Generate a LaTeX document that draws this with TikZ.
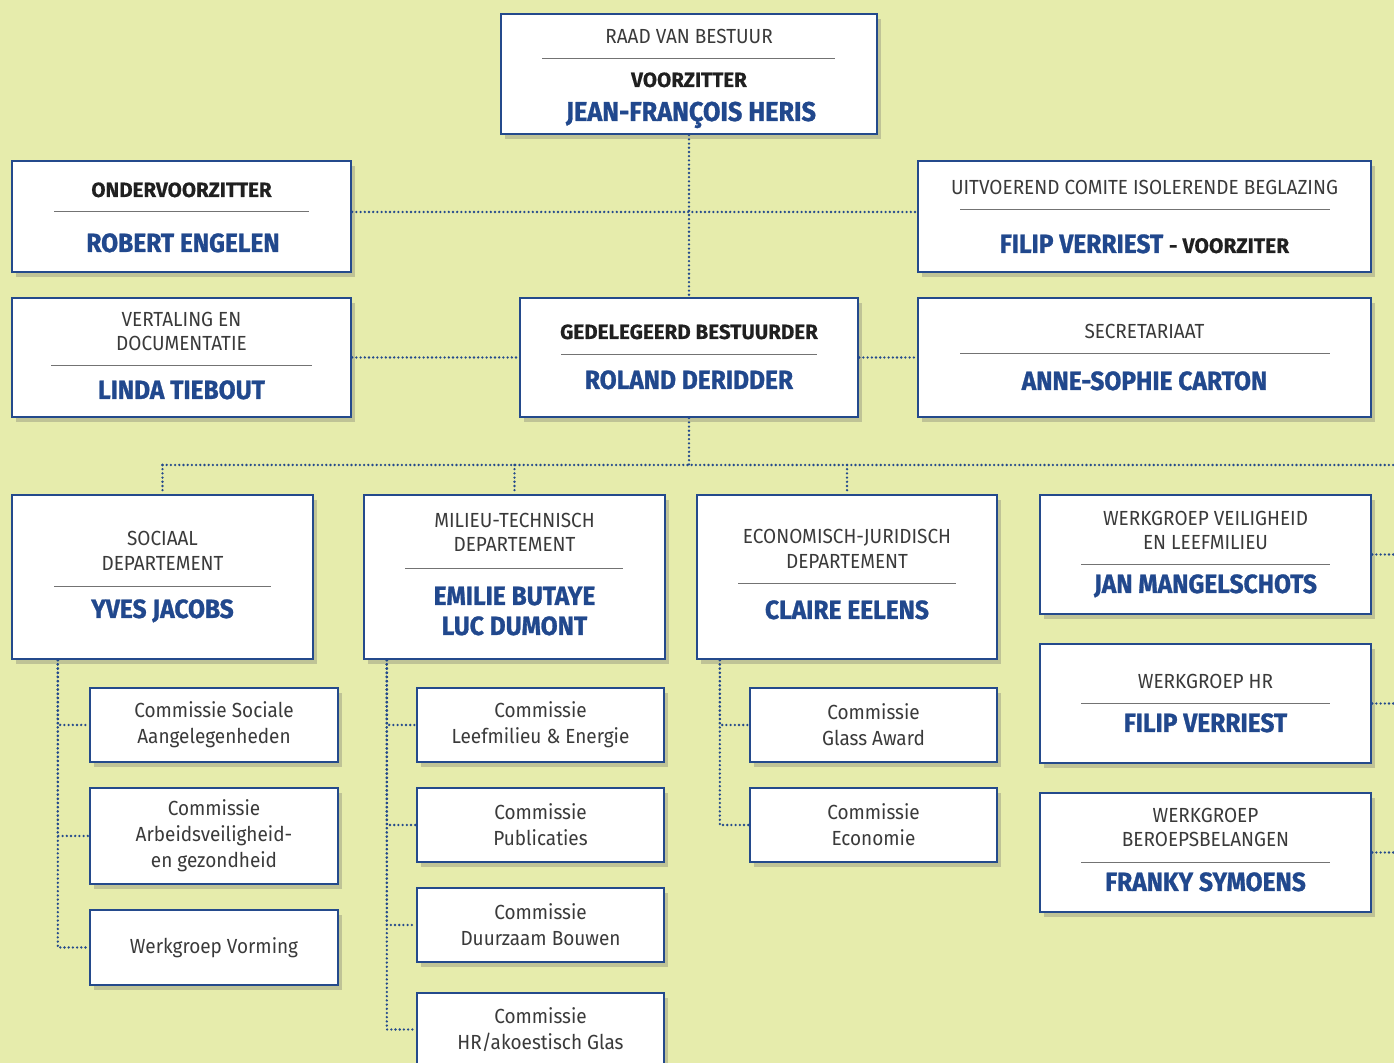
\documentclass[tikz,border=0pt]{standalone}
\usepackage{fontspec}
\setmainfont{Fira Sans}[FakeStretch=0.93]
\newfontfamily\namefont{Fira Sans}[FakeStretch=0.93,FakeBold=1]
\newfontfamily\subfont{Fira Sans}[FakeBold=0.4]
\usepackage{tikz}
\usetikzlibrary{positioning,calc,fit,shadows}
\definecolor{pageGreen}{RGB}{230,236,172}
\definecolor{orgBlue}{RGB}{36,74,140}
\definecolor{nameBlue}{RGB}{33,72,141}
\definecolor{textGray}{RGB}{58,58,58}
\definecolor{darkText}{RGB}{32,32,32}

\begin{document}
\begin{tikzpicture}[x=0.5pt,y=-0.5pt,
        unit/.style={draw=orgBlue,line width=1.2pt,fill=white,inner sep=0pt,
                     drop shadow={shadow xshift=2pt,shadow yshift=-2.5pt,opacity=0.3,fill=black!60}},
        heading/.style={font=\fontsize{10.2}{13}\selectfont,text=textGray,anchor=base,inner sep=0pt},
        rank/.style={font=\subfont\bfseries\fontsize{10.3}{13}\selectfont,text=darkText,anchor=base,inner sep=0pt},
        person/.style={font=\namefont\bfseries\fontsize{13.2}{16}\selectfont,text=nameBlue,anchor=base,inner sep=0pt},
        commtext/.style={font=\fontsize{10.2}{13}\selectfont,text=textGray,align=center,inner sep=0pt},
        divider/.style={draw=black!55,line width=0.5pt},
        link/.style={draw=orgBlue,line width=1.3pt,line cap=round,dash pattern=on 0pt off 2.1pt}
    ]
    \fill[pageGreen] (0,0) rectangle (1394,1063);
    \useasboundingbox (0,0) rectangle (1394,1063);
    \clip (0,0) rectangle (1394,1063);

    % bestuur
    \node[unit,fit={(501,14) (877,134)}] (raad) {};
    \node[heading] at (689,44) {RAAD VAN BESTUUR};
    \draw[divider] (542,59) -- (835,59);
    \node[rank] at (689,87) {VOORZITTER};
    \node[person,font=\namefont\bfseries\fontsize{13.6}{16}\selectfont] at (691,121) {JEAN-FRANÇOIS HERIS};

    \node[unit,fit={(12,161) (351,272)}] (onder) {};
    \node[rank] at (181.5,197) {ONDERVOORZITTER};
    \draw[divider] (54,212) -- (309,212);
    \node[person] at (183,252) {ROBERT ENGELEN};

    \node[unit,fit={(918,161) (1371,272)}] (uitv) {};
    \node[heading] at (1144.5,195) {UITVOEREND COMITE ISOLERENDE BEGLAZING};
    \draw[divider] (960,210) -- (1330,210);
    \node[person] at (1144.5,253) {FILIP VERRIEST {\subfont\color{darkText}\fontsize{10.5}{13}\selectfont - VOORZITER}};

    \node[unit,fit={(12,298) (351,417)}] (vert) {};
    \node[heading] at (181.5,327) {VERTALING EN};
    \node[heading] at (181.5,351) {DOCUMENTATIE};
    \draw[divider] (51,366) -- (312,366);
    \node[person] at (181.5,399) {LINDA TIEBOUT};

    \node[unit,fit={(520,298) (858,417)}] (ged) {};
    \node[rank] at (689,339) {GEDELEGEERD BESTUURDER};
    \draw[divider] (561,355) -- (817,355);
    \node[person] at (689,389) {ROLAND DERIDDER};

    \node[unit,fit={(918,298) (1371,417)}] (secr) {};
    \node[heading] at (1144.5,339) {SECRETARIAAT};
    \draw[divider] (960,354) -- (1330,354);
    \node[person] at (1144.5,390) {ANNE-SOPHIE CARTON};

    % departementen
    \node[unit,fit={(12,495) (313,659)}] (sociaal) {};
    \node[heading] at (162.5,546) {SOCIAAL};
    \node[heading] at (162.5,571) {DEPARTEMENT};
    \draw[divider] (54,587) -- (271,587);
    \node[person] at (162.5,618) {YVES JACOBS};

    \node[unit,fit={(364,495) (665,659)}] (milieu) {};
    \node[heading] at (514.5,528) {MILIEU-TECHNISCH};
    \node[heading] at (514.5,552) {DEPARTEMENT};
    \draw[divider] (405,569) -- (623,569);
    \node[person] at (514.5,605) {EMILIE BUTAYE};
    \node[person] at (514.5,635) {LUC DUMONT};

    \node[unit,fit={(697,495) (997,659)}] (econ) {};
    \node[heading] at (847,544) {ECONOMISCH-JURIDISCH};
    \node[heading] at (847,569) {DEPARTEMENT};
    \draw[divider] (738,584) -- (956,584);
    \node[person] at (847,619) {CLAIRE EELENS};

    % werkgroepen
    \node[unit,fit={(1040,495) (1371,614)}] (wgveil) {};
    \node[heading] at (1205.5,526) {WERKGROEP VEILIGHEID};
    \node[heading] at (1205.5,550) {EN LEEFMILIEU};
    \draw[divider] (1081,565) -- (1330,565);
    \node[person] at (1205.5,593) {JAN MANGELSCHOTS};

    \node[unit,fit={(1040,644) (1371,763)}] (wghr) {};
    \node[heading] at (1205.5,689) {WERKGROEP HR};
    \draw[divider] (1081,704) -- (1330,704);
    \node[person] at (1205.5,732) {FILIP VERRIEST};

    \node[unit,fit={(1040,793) (1371,912)}] (wgber) {};
    \node[heading] at (1205.5,823) {WERKGROEP};
    \node[heading] at (1205.5,847) {BEROEPSBELANGEN};
    \draw[divider] (1081,863) -- (1330,863);
    \node[person] at (1205.5,891) {FRANKY SYMOENS};

    % commissies
    \node[unit,fit={(90,688) (338,762)}] (csoc) {};
    \node[commtext] at (csoc.center) {Commissie Sociale\\Aangelegenheden};
    \node[unit,fit={(90,788) (338,884)}] (carb) {};
    \node[commtext] at (carb.center) {Commissie\\Arbeidsveiligheid-\\en gezondheid};
    \node[unit,fit={(90,910) (338,985)}] (cvorm) {};
    \node[commtext] at (cvorm.center) {Werkgroep Vorming};

    \node[unit,fit={(417,688) (664,762)}] (cleef) {};
    \node[commtext] at (cleef.center) {Commissie\\Leefmilieu \& Energie};
    \node[unit,fit={(417,788) (664,862)}] (cpub) {};
    \node[commtext] at (cpub.center) {Commissie\\Publicaties};
    \node[unit,fit={(417,888) (664,962)}] (cduur) {};
    \node[commtext] at (cduur.center) {Commissie\\Duurzaam Bouwen};
    \node[unit,fit={(417,993) (664,1066)}] (chr) {};
    \node[commtext] at (chr.center) {Commissie\\HR/akoestisch Glas};

    \node[unit,fit={(750,688) (997,762)}] (cglas) {};
    \node[commtext] at (cglas.center) {Commissie\\Glass Award};
    \node[unit,fit={(750,788) (997,862)}] (ceco) {};
    \node[commtext] at (ceco.center) {Commissie\\Economie};

    % verbindingen
    \coordinate (bar) at (689,212);
    \coordinate (bus) at (689,465);
    \coordinate (edge) at (1400,465);
    \draw[link] (raad.south) -- (ged.north);
    \draw[link] (onder.east |- bar) -- (uitv.west |- bar);
    \draw[link] (vert.east) -- (ged.west);
    \draw[link] (ged.east) -- (secr.west);
    \draw[link] (ged.south) -- (bus);
    \draw[link] (bus -| sociaal.north) -- (edge);
    \draw[link] (bus -| sociaal.north) -- (sociaal.north);
    \draw[link] (bus -| milieu.north) -- (milieu.north);
    \draw[link] (bus -| econ.north) -- (econ.north);
    \draw[link] (wgveil.east) -- (wgveil.east -| edge);
    \draw[link] (wghr.east) -- (wghr.east -| edge);
    \draw[link] (wgber.east) -- (wgber.east -| edge);

    \draw[link] ($(sociaal.south west)+(47,0)$) |- (csoc.west);
    \draw[link] ($(sociaal.south west)+(47,0)$) |- (carb.west);
    \draw[link] ($(sociaal.south west)+(47,0)$) |- (cvorm.west);
    \draw[link] ($(milieu.south west)+(24,0)$) |- (cleef.west);
    \draw[link] ($(milieu.south west)+(24,0)$) |- (cpub.west);
    \draw[link] ($(milieu.south west)+(24,0)$) |- (cduur.west);
    \draw[link] ($(milieu.south west)+(24,0)$) |- (chr.west);
    \draw[link] ($(econ.south west)+(24,0)$) |- (cglas.west);
    \draw[link] ($(econ.south west)+(24,0)$) |- (ceco.west);
\end{tikzpicture}
\end{document}
